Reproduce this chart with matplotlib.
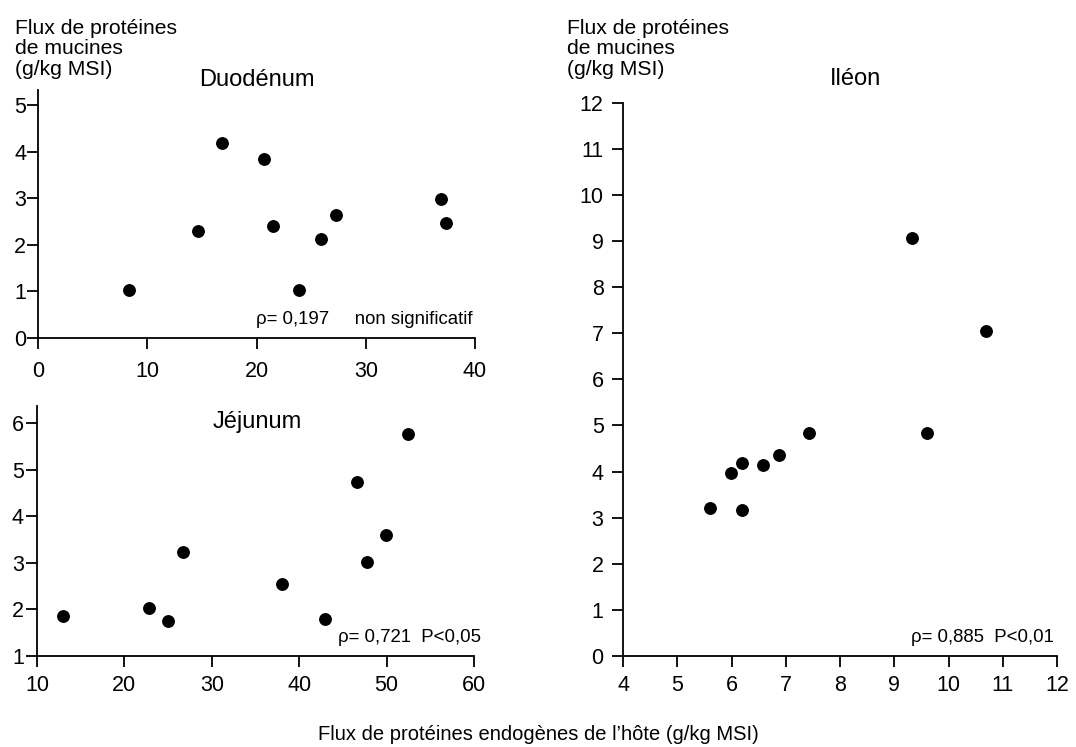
import matplotlib
matplotlib.use("Agg")
import matplotlib.pyplot as plt

plt.rcParams['font.family'] = ['Liberation Sans', 'DejaVu Sans']

# Data
duo_x = [8.3, 14.6, 16.8, 20.7, 21.5, 23.9, 25.9, 27.3, 36.85, 37.3]
duo_y = [1.04, 2.30, 4.19, 3.84, 2.41, 1.04, 2.12, 2.64, 2.98, 2.47]
jej_x = [13.0, 22.8, 24.95, 26.7, 38.0, 42.9, 46.6, 47.8, 49.9, 52.4]
jej_y = [1.86, 2.03, 1.75, 3.23, 2.55, 1.80, 4.74, 3.01, 3.59, 5.77]
ile_x = [5.61, 5.99, 6.19, 6.19, 6.58, 6.88, 7.42, 9.61, 9.32, 10.69]
ile_y = [3.21, 3.97, 4.19, 3.16, 4.14, 4.37, 4.83, 4.83, 9.07, 7.04]

duo_xticks = [0, 10, 20, 30, 40]
duo_yticks = [0, 1, 2, 3, 4, 5]
jej_xticks = [10, 20, 30, 40, 50, 60]
jej_yticks = [1, 2, 3, 4, 5, 6]
ile_xticks = [4, 5, 6, 7, 8, 9, 10, 11, 12]
ile_yticks = list(range(0, 13))

titles = ["Duodénum", "Jéjunum", "Iléon"]
stats = ["ρ= 0,197     non significatif", "ρ= 0,721  P<0,05", "ρ= 0,885  P<0,01"]
ylabel = "Flux de protéines\nde mucines\n(g/kg MSI)"
xlabel = "Flux de protéines endogènes de l\u2019hôte (g/kg MSI)"

W, H = 1076, 747
fig = plt.figure(figsize=(W / 100, H / 100), dpi=100)


def rect(x0, x1, ytop, ybot):
    return [x0 / W, 1 - ybot / H, (x1 - x0) / W, (ybot - ytop) / H]


def fx(px):
    return px / W


def fy(py):
    return 1 - py / H


def style(ax, xt, yt, xlim, ylim, xpad, ypad):
    for s in ['top', 'right']:
        ax.spines[s].set_visible(False)
    for s in ['left', 'bottom']:
        ax.spines[s].set_linewidth(1.3)
    ax.set_xlim(*xlim)
    ax.set_ylim(*ylim)
    ax.set_xticks(xt)
    ax.set_yticks(yt)
    ax.tick_params(axis='both', direction='out', length=8, width=1.3,
                   labelsize=15.5, colors='black')
    ax.tick_params(axis='x', pad=xpad)
    ax.tick_params(axis='y', pad=ypad)
    ax.patch.set_alpha(0)


ms = 68

ax1 = fig.add_axes(rect(38, 475, 90, 338))
ax1.scatter(duo_x, duo_y, s=ms, color='black', zorder=3)
style(ax1, duo_xticks, duo_yticks, (0, 40), (0, 5.32), 8.5, 0.5)

ax2 = fig.add_axes(rect(37, 474, 406, 656))
ax2.scatter(jej_x, jej_y, s=ms, color='black', zorder=3)
style(ax2, jej_xticks, jej_yticks, (10, 60), (1, 6.37), 5.5, 1.5)

ax3 = fig.add_axes(rect(623, 1057, 102.7, 656))
ax3.scatter(ile_x, ile_y, s=ms, color='black', zorder=3)
style(ax3, ile_xticks, ile_yticks, (4, 12), (0, 12), 5.5, 6)

# y labels
fig.text(fx(15), fy(19), ylabel, fontsize=15.2, ha='left', va='top', linespacing=1.1)
fig.text(fx(567), fy(19), ylabel, fontsize=15.2, ha='left', va='top', linespacing=1.1)

# panel titles
fig.text(fx(257), fy(80), titles[0], fontsize=17, ha='center', va='center')
fig.text(fx(257.5), fy(422), titles[1], fontsize=17, ha='center', va='center')
fig.text(fx(856), fy(79), titles[2], fontsize=17, ha='center', va='center')

# statistics
fig.text(fx(473), fy(320), stats[0], fontsize=13.4, ha='right', va='center')
fig.text(fx(481), fy(638), stats[1], fontsize=13.4, ha='right', va='center')
fig.text(fx(1054), fy(638), stats[2], fontsize=13.4, ha='right', va='center')

# common x label
fig.text(fx(538), fy(735), xlabel, fontsize=14.5, ha='center', va='center')

fig.savefig("out.png", dpi=100, facecolor='white')
